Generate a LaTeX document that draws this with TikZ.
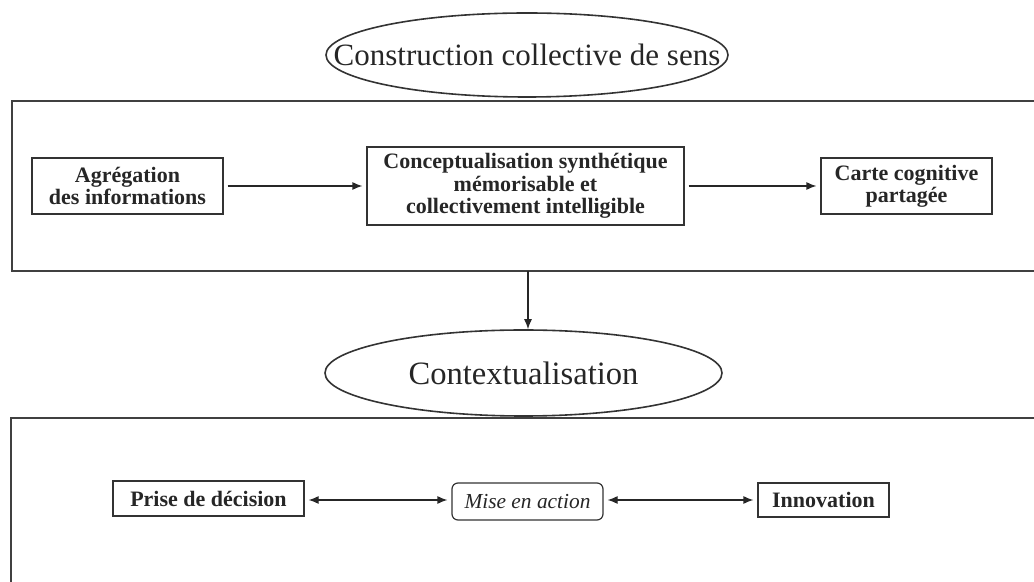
\documentclass[tikz,border=0pt]{standalone}
\usepackage{fontspec}
\setmainfont{Liberation Serif}
\usetikzlibrary{shapes.geometric,arrows.meta}
\tikzset{
  bloc/.style={draw=black!80, semithick, text=black!85, align=center, inner sep=0pt,
    font=\fontsize{11}{11.2}\selectfont\bfseries},
  theme/.style={draw=black!80, thick, ellipse, inner sep=0pt, text=black!85,
    font=\fontsize{15.5}{16}\selectfont},
  cadre/.style={draw=black!75, line width=1pt},
  lien/.style={->, >={Latex[length=5pt,width=4pt]}, draw=black!85, semithick,
    shorten <=2pt, shorten >=2pt}
}
\begin{document}
\begin{tikzpicture}[x=0.5pt,y=-0.5pt]
  \useasboundingbox (0,0) rectangle (1034,582);
  % haut
  \node[theme, minimum width=201pt, minimum height=42pt] (sens) at (527,55)
    {\makebox[0pt]{Construction collective de sens}};
  \draw[cadre] (1034,101) -- (12,101) -- (12,271) -- (1034,271);
  \coordinate (bas) at (528,271);
  \node[bloc, minimum width=95.5pt, minimum height=28pt] (agreg) at (127.5,186)
    {Agrégation\\des informations};
  \node[bloc, minimum width=158.5pt, minimum height=39pt] (concept) at (525.5,186)
    {Conceptualisation synthétique\\mémorisable et\\collectivement intelligible};
  \node[bloc, minimum width=85.5pt, minimum height=28pt] (carte) at (906.5,186)
    {Carte cognitive\\partagée};
  \draw[lien] (agreg) -- (concept);
  \draw[lien] (concept) -- (carte);
  % bas
  \node[theme, font=\fontsize{16.3}{17}\selectfont, minimum width=198.5pt,
    minimum height=43pt] (ctx) at (523.5,373) {\makebox[0pt]{Contextualisation}};
  \draw[lien, shorten <=0pt, shorten >=0pt] (bas) -- (bas |- ctx.north);
  \draw[cadre] (1034,418) -- (11,418) -- (11,582);
  \node[bloc, minimum width=95.5pt, minimum height=17.5pt] (decision) at (208.5,498.5)
    {Prise de décision};
  \node[bloc, rounded corners=3pt, font=\fontsize{10.7}{11}\selectfont\itshape,
    minimum width=75.5pt, minimum height=18.5pt] (action) at (527.5,501.5) {Mise en action};
  \node[bloc, minimum width=65.5pt, minimum height=17pt] (innov) at (823.5,500)
    {Innovation};
  \draw[lien, <->] (decision.east |- 0,500) -- (action.west |- 0,500);
  \draw[lien, <->] (action.east |- 0,500) -- (innov.west |- 0,500);
\end{tikzpicture}
\end{document}
